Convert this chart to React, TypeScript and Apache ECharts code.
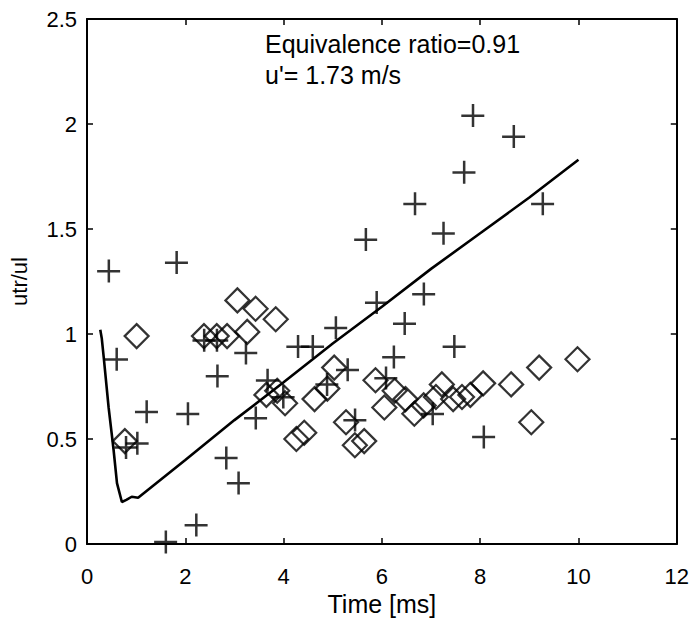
import React, { useEffect, useRef } from "react";
import * as echarts from "echarts";

// Cross (+) markers: time [ms], ratio
const crossTime = [0.44, 1.82, 0.6, 0.79, 1.02, 1.21, 2.05, 1.6, 2.22, 2.83, 3.08, 2.65, 3.23, 3.43, 3.67, 3.99, 2.38, 2.64, 4.29, 4.59, 4.88, 5.06, 5.3, 5.45, 5.67, 5.89, 6.08, 6.24, 6.46, 6.67, 6.85, 7.03, 7.25, 7.47, 7.67, 7.85, 8.07, 8.68, 9.27];
const crossRatio = [1.3, 1.34, 0.88, 0.46, 0.48, 0.63, 0.62, 0.01, 0.09, 0.41, 0.29, 0.8, 0.91, 0.6, 0.78, 0.7, 0.97, 0.97, 0.94, 0.94, 0.76, 1.03, 0.83, 0.59, 1.45, 1.15, 0.79, 0.89, 1.05, 1.62, 1.19, 0.62, 1.48, 0.94, 1.77, 2.04, 0.51, 1.94, 1.62];

// Diamond markers
const diamondTime = [0.77, 1.01, 2.38, 2.64, 2.85, 3.26, 3.06, 3.43, 3.84, 3.65, 3.87, 4.03, 4.26, 4.42, 4.63, 4.89, 5.03, 5.27, 5.45, 5.64, 5.87, 6.05, 6.26, 6.48, 6.66, 6.85, 7.1, 7.22, 7.45, 7.63, 7.8, 8.06, 8.63, 9.2, 9.98, 9.04];
const diamondRatio = [0.49, 0.99, 0.99, 0.99, 0.99, 1.01, 1.16, 1.12, 1.07, 0.71, 0.73, 0.67, 0.5, 0.53, 0.69, 0.74, 0.84, 0.58, 0.47, 0.49, 0.78, 0.65, 0.73, 0.69, 0.62, 0.66, 0.7, 0.76, 0.69, 0.7, 0.71, 0.765, 0.76, 0.84, 0.88, 0.58];

// Model curve
const lineTime = [0.27, 0.3, 0.34, 0.44, 0.5, 0.54, 0.61, 0.71, 0.8, 0.91, 1.04, 2, 3, 4, 5, 6, 7, 8, 9, 10];
const lineRatio = [1.02, 0.98, 0.89, 0.65, 0.53, 0.45, 0.29, 0.2, 0.21, 0.225, 0.22, 0.4, 0.59, 0.77, 0.955, 1.13, 1.31, 1.48, 1.65, 1.83];

const annotation1 = "Equivalence ratio=0.91";
const annotation2 = "u'= 1.73 m/s";

const FONT = "'Liberation Sans', Arial, sans-serif";

export default function App() {
  const ref = useRef<HTMLDivElement>(null);
  useEffect(() => {
    if (!ref.current) return;
    const chart = echarts.init(ref.current, null, { renderer: "svg" });
    const axisLine = { show: true, onZero: false, lineStyle: { color: "#000", width: 2 } };
    const axisTick = { show: true, inside: true, length: 6, lineStyle: { color: "#000", width: 1.5 } };
    const label = { fontFamily: FONT, fontSize: 22, color: "#000" };
    const crosses = crossTime.map((t, i) => [t, crossRatio[i]]);
    const diamonds = diamondTime.map((t, i) => [t, diamondRatio[i]]);
    const line = lineTime.map((t, i) => [t, lineRatio[i]]);
    chart.setOption({
      animation: false,
      backgroundColor: "#fff",
      grid: { left: 86, right: 12, top: 19, bottom: 81 },
      xAxis: [
        {
          type: "value", min: 0, max: 12, interval: 2, position: "bottom",
          axisLine, axisTick, splitLine: { show: false },
          axisLabel: { ...label, margin: 21 },
          name: "Time [ms]", nameLocation: "middle", nameGap: 46,
          nameTextStyle: { fontFamily: FONT, fontSize: 25, color: "#000" },
        },
        {
          type: "value", min: 0, max: 12, interval: 2, position: "top",
          axisLine, axisTick, splitLine: { show: false }, axisLabel: { show: false },
        },
      ],
      yAxis: [
        {
          type: "value", min: 0, max: 2.5, interval: 0.5, position: "left",
          axisLine, axisTick, splitLine: { show: false },
          axisLabel: { ...label, margin: 10 },
          name: "utr/ul", nameLocation: "middle", nameGap: 57,
          nameTextStyle: { fontFamily: FONT, fontSize: 22, color: "#000" },
        },
        {
          type: "value", min: 0, max: 2.5, interval: 0.5, position: "right",
          axisLine, axisTick, splitLine: { show: false }, axisLabel: { show: false },
        },
      ],
      series: [
        {
          type: "line", data: line, symbol: "none", showSymbol: false,
          lineStyle: { color: "#000", width: 2.6 }, z: 2,
        },
        {
          type: "scatter", data: diamonds, symbol: "diamond", symbolSize: 24,
          itemStyle: { color: "rgba(0,0,0,0)", borderColor: "#000", borderWidth: 2.2 }, z: 3,
        },
        {
          type: "scatter", data: crosses,
          symbol: "path://M10,0H12.4V22H10Z M0,10H22V12.4H0Z", symbolSize: 23,
          itemStyle: { color: "#000" }, z: 4,
        },
      ],
      graphic: [
        {
          type: "text", x: 265, y: 44,
          style: { text: annotation1, fontFamily: FONT, fontSize: 25, fill: "#000", align: "left", verticalAlign: "middle" },
        },
        {
          type: "text", x: 265, y: 75,
          style: { text: annotation2, fontFamily: FONT, fontSize: 25, fill: "#000", align: "left", verticalAlign: "middle" },
        },
      ],
    });
    return () => chart.dispose();
  }, []);
  return <div ref={ref} style={{ position: "absolute", left: 0, top: 0, width: 692, height: 625 }} />;
}
